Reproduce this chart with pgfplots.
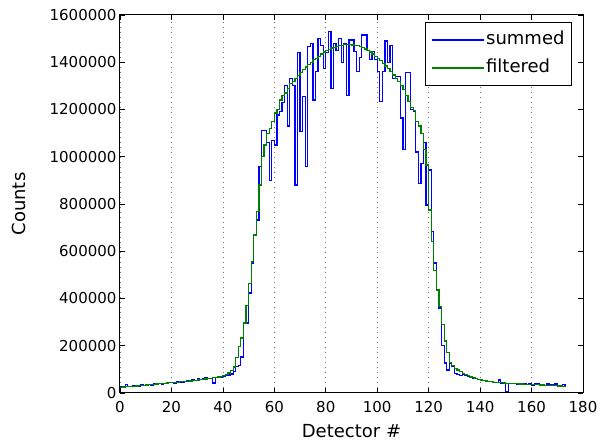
\documentclass[border=0pt]{standalone}
\usepackage{fontspec}
\setmainfont{DejaVu Sans}
\usepackage{pgfplots}
\pgfplotsset{compat=1.18}
\usepackage{pgfplotstable}

\pgfplotstableread{
d s f
0 27000 24000
1 24000 25000
2 36000 26000
3 28000 27000
4 26000 28000
5 33000 29000
6 30000 30000
7 29000 31000
8 34000 32000
9 32000 33000
10 33000 34000
11 36000 35000
12 34000 36000
13 38000 37000
14 36000 38000
15 40000 39000
16 38000 40000
17 41000 41000
18 40000 42000
19 46000 43000
20 44000 44000
21 40000 45000
22 47000 46000
23 45000 47000
24 46000 48000
25 48000 49000
26 52000 50000
27 50000 51000
28 55000 52000
29 54000 53000
30 60000 55000
31 58000 56000
32 62000 57000
33 65000 59000
34 63000 60000
35 60000 62000
36 42000 64000
37 66000 66000
38 70000 68000
39 68000 70000
40 72000 73000
41 75000 78000
42 76000 85000
43 80000 95000
44 90000 110000
45 111000 150000
46 118000 196000
47 152000 233000
48 296000 296000
49 296000 372000
50 423000 465000
51 550000 556000
52 670000 669000
53 732000 767000
54 958000 880000
55 1110000 1000000
56 1110000 1050000
57 1060000 1100000
58 900000 1120000
59 1070000 1148000
60 1050000 1185000
61 1177000 1200000
62 1190000 1240000
63 1230000 1260000
64 1300000 1270000
65 1130000 1290000
66 1330000 1310000
67 1300000 1320000
68 880000 1332000
69 1440000 1345000
70 1106000 1357000
71 1254000 1368000
72 958000 1380000
73 1466000 1390000
74 1480000 1400000
75 1240000 1410000
76 1360000 1417000
77 1500000 1426000
78 1470000 1435000
79 1375000 1443000
80 1440000 1450000
81 1530000 1455000
82 1290000 1460000
83 1480000 1464000
84 1450000 1467000
85 1500000 1470000
86 1400000 1472000
87 1480000 1474000
88 1260000 1475000
89 1494000 1474000
90 1494000 1473000
91 1445000 1472000
92 1360000 1470000
93 1420000 1466000
94 1515000 1462000
95 1515000 1456000
96 1450000 1450000
97 1410000 1443000
98 1445000 1435000
99 1410000 1426000
100 1360000 1417000
101 1233000 1406000
102 1360000 1395000
103 1490000 1384000
104 1400000 1372000
105 1470000 1360000
106 1330000 1346000
107 1340000 1332000
108 1340000 1318000
109 1164000 1300000
110 1030000 1283000
111 1355000 1260000
112 1355000 1233000
113 1200000 1210000
114 1190000 1195000
115 1020000 1150000
116 888000 1130000
117 970000 1100000
118 1060000 1030000
119 796000 965000
120 944000 775000
121 683000 640000
122 550000 520000
123 436000 436000
124 360000 365000
125 200000 290000
126 127000 220000
127 97000 170000
128 127000 130000
129 111000 115000
130 84000 105000
131 78000 97000
132 75000 90000
133 80000 84000
134 74000 78000
135 70000 73000
136 66000 68000
137 62000 64000
138 60000 61000
139 57000 58000
140 55000 55000
141 52000 53000
142 51000 51000
143 48000 49000
144 47000 48000
145 46000 46000
146 44000 45000
147 55000 44000
148 42000 43000
149 41000 42000
150 8000 41000
151 40000 40000
152 39000 40000
153 41000 39000
154 38000 39000
155 40000 38000
156 37000 38000
157 39000 37000
158 36000 37000
159 40000 36000
160 34000 36000
161 38000 35000
162 40000 35000
163 35000 34000
164 37000 34000
165 33000 33000
166 38000 33000
167 36000 32000
168 34000 32000
169 38000 31000
170 31000 30000
171 30000 30000
172 35000 29000
173 30000 28000
}\datatable

\definecolor{mplblue}{rgb}{0,0,1}
\definecolor{mplgreen}{rgb}{0,0.5,0}

\begin{document}
\begin{tikzpicture}
\useasboundingbox (-120pt,-50pt) rectangle (482pt,393pt);
\begin{axis}[
  scale only axis,
  width=463pt, height=378pt,
  xmin=0, xmax=180, ymin=0, ymax=1600000,
  xtick={0,20,40,60,80,100,120,140,160,180},
  ytick={0,200000,400000,600000,800000,1000000,1200000,1400000,1600000},
  scaled y ticks=false, scaled x ticks=false,
  yticklabel style={/pgf/number format/fixed,/pgf/number format/1000 sep={}},
  xticklabel style={yshift=-5pt},
  /pgf/number format/assume math mode=true,
  tick align=inside,
  major tick length=5pt,
  tick style={black, line width=0.6pt},
  axis line style={black, line width=1pt},
  xmajorgrids,
  major x grid style={black!55, line width=0.6pt, dash pattern=on 1.2pt off 3.8pt},
  ticklabel style={font=\fontsize{15}{18}\selectfont},
  xlabel={Detector \#},
  ylabel={Counts},
  label style={font=\fontsize{18}{21}\selectfont},
  xlabel style={at={(axis description cs:0.5,-0.1)}, anchor=center},
  ylabel style={at={(axis description cs:-0.218,0.5)}, anchor=center},
  legend style={at={(1,1)}, anchor=north east, xshift=-11pt, yshift=-7pt,
    draw=black, line width=1pt, font=\fontsize{18}{21}\selectfont,
    inner xsep=5pt, inner ysep=7pt, row sep=7pt,
    nodes={inner sep=2pt, text height=13pt, text depth=4pt}},
  legend cell align=left,
  legend image code/.code={\draw[#1] (0pt,0pt) -- (36pt,0pt); \path (0pt,0pt) -- (52pt,0pt);},
]
\addplot[const plot, mplblue, line width=1.2pt] table[x=d, y=s] {\datatable};
\addlegendentry{summed}
\addplot[const plot, mplgreen, line width=1.2pt] table[x=d, y=f] {\datatable};
\addlegendentry{filtered}
\end{axis}
\end{tikzpicture}
\end{document}
